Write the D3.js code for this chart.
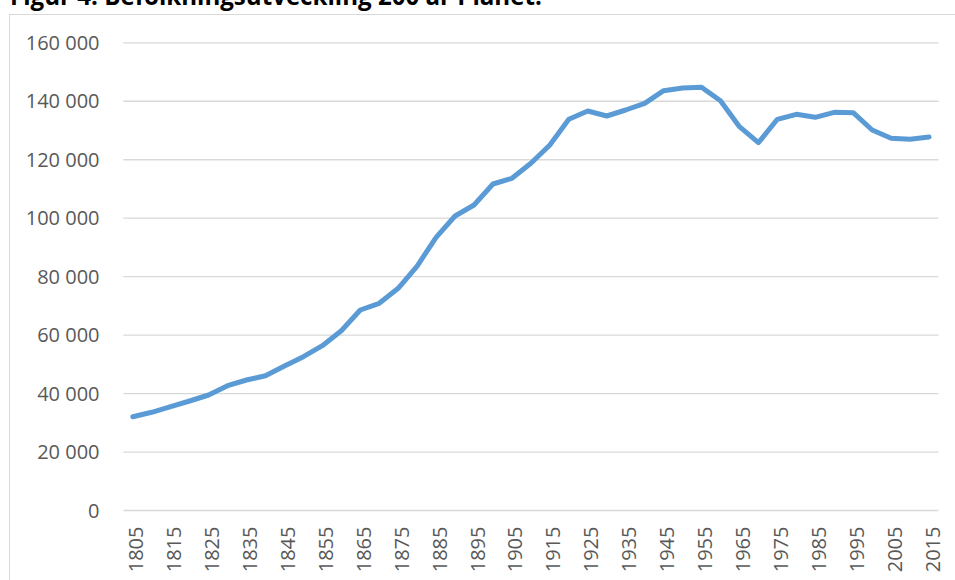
<!DOCTYPE html>
<html>
<head>
<meta charset="utf-8">
<script src="https://cdn.jsdelivr.net/npm/d3@7"></script>
<style>
  html, body { margin: 0; padding: 0; background: #fff; }
  svg { display: block; }
</style>
</head>
<body>
<svg id="chart" width="955" height="580"></svg>
<script>
const title = "Figur 4. Befolkningsutveckling 200 år Planet.";
const years = [1805,1810,1815,1820,1825,1830,1835,1840,1845,1850,1855,1860,1865,1870,1875,1880,1885,1890,1895,1900,1905,1910,1915,1920,1925,1930,1935,1940,1945,1950,1955,1960,1965,1970,1975,1980,1985,1990,1995,2000,2005,2010,2015];
const population = [31920,33420,35340,37290,39340,42520,44470,45940,49260,52440,56210,61340,68420,70710,75840,83470,93290,100580,104340,111520,113470,118610,124870,133660,136500,134790,136840,139130,143440,144370,144610,140020,131130,125650,133660,135370,134340,136050,135920,130000,127160,126820,127600];
const xTickLabels = [1805,1815,1825,1835,1845,1855,1865,1875,1885,1895,1905,1915,1925,1935,1945,1955,1965,1975,1985,1995,2005,2015];
const yTicks = [0,20000,40000,60000,80000,100000,120000,140000,160000];

const svg = d3.select("#chart");
const W = 955, H = 580;
const plot = { left: 123.3, right: 938.5, top: 42.3, bottom: 510 };

// chart frame
svg.append("rect")
  .attr("x", 9.5).attr("y", 14.5)
  .attr("width", W + 20).attr("height", H + 20)
  .attr("fill", "#fff").attr("stroke", "#d9d9d9").attr("stroke-width", 1);

// title (partly cut at the top)
const t = svg.append("text")
  .attr("x", 10).attr("y", 4.5)
  .attr("font-family", "'Open Sans', sans-serif")
  .attr("font-weight", "bold")
  .attr("font-size", 22)
  .attr("fill", "#000")
  .text(title);
const tl = t.node().getComputedTextLength();
t.attr("font-size", 22 * 532 / tl);

const x = d3.scaleBand().domain(years).range([plot.left, plot.right]).padding(0);
const y = d3.scaleLinear().domain([0, 160000]).range([plot.bottom, plot.top]);
const cx = d => x(d) + x.bandwidth() / 2;

// gridlines
const yAxis = d3.axisLeft(y).tickValues(yTicks).tickSize(-(plot.right - plot.left)).tickPadding(0)
  .tickFormat(d => d3.format(",")(d).replace(/,/g, " "));
const gy = svg.append("g").attr("transform", `translate(${plot.left},0)`).call(yAxis);
gy.select(".domain").remove();
gy.selectAll(".tick line").attr("stroke", "#d9d9d9").attr("stroke-width", 1.3);
gy.selectAll(".tick text")
  .attr("x", 99.5 - plot.left)
  .attr("dy", "0.36em")
  .attr("text-anchor", "end")
  .attr("font-family", "'Open Sans', sans-serif")
  .attr("font-size", 20)
  .attr("fill", "#595959");

// x axis labels
const xAxis = d3.axisBottom(x).tickValues(xTickLabels).tickSize(0).tickFormat(d => d);
const gx = svg.append("g").attr("transform", `translate(0,${plot.bottom})`).call(xAxis);
gx.select(".domain").remove();
gx.selectAll(".tick text")
  .attr("transform", "translate(10.5,16.5) rotate(-90)")
  .attr("x", 0).attr("y", 0).attr("dy", 0)
  .attr("text-anchor", "end")
  .attr("font-family", "'Open Sans', sans-serif")
  .attr("font-size", 20)
  .attr("fill", "#595959");

// line
const line = d3.line().x((d, i) => cx(years[i])).y(d => y(d));
svg.append("path")
  .datum(population)
  .attr("d", line)
  .attr("fill", "none")
  .attr("stroke", "#5b9bd5")
  .attr("stroke-width", 5)
  .attr("stroke-linejoin", "round")
  .attr("stroke-linecap", "round");
</script>
</body>
</html>
